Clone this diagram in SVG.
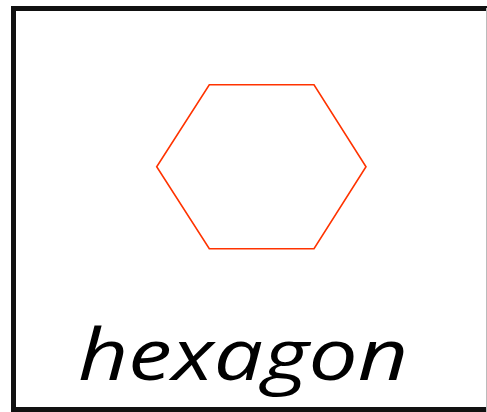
<svg xmlns="http://www.w3.org/2000/svg" width="487" height="412" viewBox="0 0 487 412">
<style>
.frame{fill:none;stroke:#111;stroke-width:5}
.hex{fill:none;stroke:#ff3300;stroke-width:1.6;stroke-linejoin:miter}
.label{font-family:"Open Sans","Noto Sans",sans-serif;font-style:italic;font-size:72px;fill:#000}
</style>
<rect x="0" y="0" width="487" height="412" fill="#fff"/>
<g id="frame">
<path class="frame" d="M13.5,412 V8.5 H487"/>
<path class="frame" d="M13.5,409.5 H487"/>
<line x1="486.5" y1="8" x2="486.5" y2="412" stroke="#bbb" stroke-width="1"/>
</g>
<g id="hexagon">
<polygon class="hex" points="209.3,84.7 314,84.7 366,166.7 314,248.7 209.3,248.7 156.7,166.7"/>
</g>
<g id="label">
<text class="label" x="78" y="380" textLength="330" lengthAdjust="spacingAndGlyphs">hexagon</text>
</g>
<g id="connectors"></g>
</svg>
